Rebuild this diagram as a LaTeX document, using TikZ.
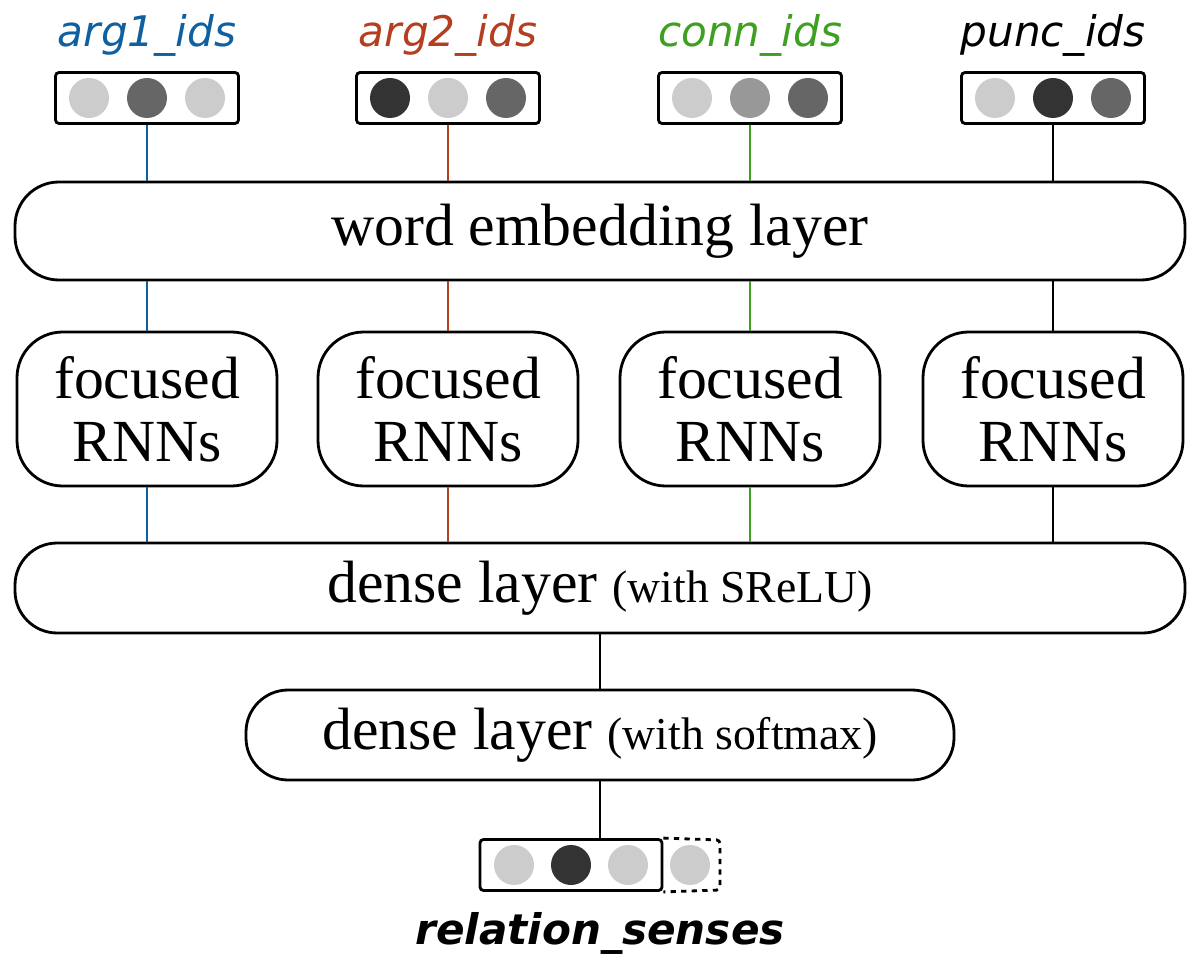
\documentclass[tikz,border=0pt]{standalone}
\usepackage{fontspec}
\setmainfont{Liberation Serif}
\setsansfont{DejaVu Sans}
\usetikzlibrary{positioning}
\definecolor{ArgOne}{RGB}{16,96,160}
\definecolor{ArgTwo}{RGB}{180,62,32}
\definecolor{Conn}{RGB}{62,160,32}
\definecolor{Light}{RGB}{204,204,204}
\definecolor{Mid}{RGB}{152,152,152}
\definecolor{Dark}{RGB}{102,102,102}
\definecolor{Black}{RGB}{51,51,51}
\begin{document}
\begin{tikzpicture}[x=0.02cm, y=-0.02cm,
  layer/.style={draw, line width=1.6pt, rounded corners=25pt, minimum width=#1*0.02cm, minimum height=98*0.02cm, font=\fontsize{34}{36}\selectfont},
  rnn/.style={draw, line width=1.6pt, rounded corners=26pt, minimum width=260*0.02cm, minimum height=154*0.02cm, align=center, font=\fontsize{34}{36}\selectfont},
  vec/.style={draw, line width=1.6pt, rounded corners=2pt, minimum width=183*0.02cm, minimum height=51*0.02cm, inner sep=0pt},
  dot/.style={circle, fill=#1, minimum size=40*0.02cm, inner sep=0pt},
  lbl/.style={font=\sffamily\itshape\fontsize{24}{26}\selectfont, text=#1},
  link/.style={line width=1.6pt, draw=#1}
  ]
\useasboundingbox (0,0) rectangle (1200,969);

% Input vectors
\foreach \n/\x/\c/\a/\b/\d in {a/147/ArgOne/Light/Dark/Light, b/448/ArgTwo/Black/Light/Dark, c/750/Conn/Light/Mid/Dark, d/1053/black/Light/Black/Dark}{
  \node[vec] (in\n) at (\x,98) {};
  \node[dot=\a] at (\x-58,98) {};
  \node[dot=\b] at (\x,98) {};
  \node[dot=\d] at (\x+58,98) {};
}
\node[lbl=ArgOne] at (147,35) {arg1\_ids};
\node[lbl=ArgTwo] at (448,35) {arg2\_ids};
\node[lbl=Conn] at (750,35) {conn\_ids};
\node[lbl=black] at (1053,35) {punc\_ids};

% Layers
\node[layer=1170, minimum height=98*0.02cm] (embed) at (600,231) {word embedding layer};
\foreach \n/\x in {a/147, b/448, c/750, d/1053}
  \node[rnn] (rnn\n) at (\x,409) {focused\\RNNs};
\node[layer=1170, minimum height=90*0.02cm, rounded corners=24pt] (dense) at (600,588) {dense layer {\fontsize{26}{28}\selectfont(with SReLU)}};
\node[layer=708, minimum height=90*0.02cm, rounded corners=24pt] (soft) at (600,735) {dense layer {\fontsize{26}{28}\selectfont(with softmax)}};

% Connectors
\foreach \n/\c in {a/ArgOne, b/ArgTwo, c/Conn, d/black}{
  \draw[link=\c] (in\n) -- (in\n |- embed.north);
  \draw[link=\c] (in\n |- embed.south) -- (rnn\n);
  \draw[link=\c] (rnn\n) -- (rnn\n |- dense.north);
}
\draw[link=black] (dense) -- (soft);

% Output vector
\node[vec, minimum width=182*0.02cm] (out) at (571,865) {};
\draw[line width=1.6pt, dashed, rounded corners=2pt] (out.north east) -- (720,840) -- (720,890) -- (out.south east);
\node[dot=Light] at (514,865) {};
\node[dot=Black] at (571,865) {};
\node[dot=Light] at (628,865) {};
\node[dot=Light] at (690,865) {};
\draw[link=black] (soft) -- (soft |- out.north);
\node[font=\sffamily\bfseries\itshape\fontsize{24}{26}\selectfont] (senses) at (600,933) {relation\_senses};
\end{tikzpicture}
\end{document}
